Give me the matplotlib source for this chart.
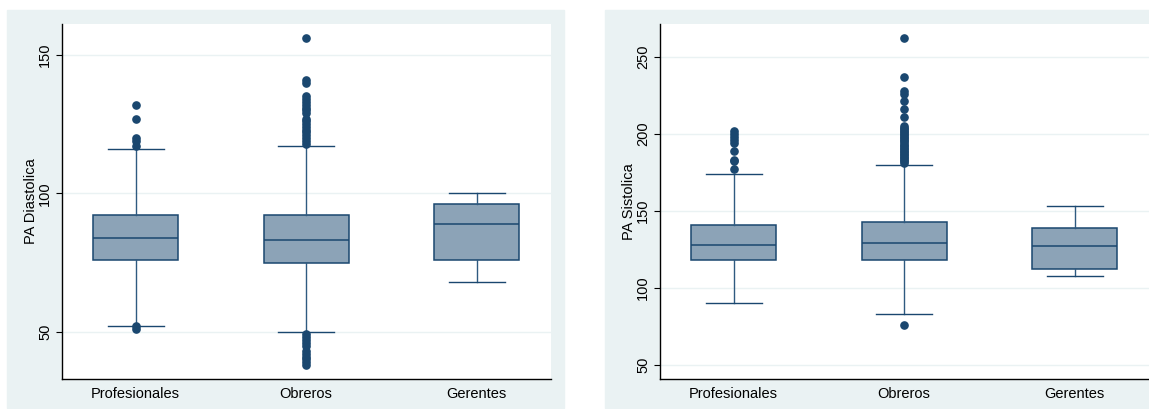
import matplotlib
matplotlib.use("Agg")
import matplotlib.pyplot as plt
from matplotlib.patches import Rectangle

plt.rcParams["font.family"] = ["Liberation Sans", "DejaVu Sans"]

#### Data
groups = ["Profesionales", "Obreros", "Gerentes"]

# PA Diastolica: (whislo, q1, med, q3, whishi)
dia_stats = [(52, 76, 84, 92, 116), (50, 75, 83, 92, 117), (68, 76, 89, 96, 100)]
dia_fliers = [
    [132, 127, 120, 119, 117, 51, 52],
    [156, 141, 140, 135, 134, 133, 132, 131, 130, 129, 127, 126, 125, 124,
     123, 122, 121, 120, 119, 118,
     49, 48, 47, 46, 45, 43, 42, 41, 40, 39, 38],
    [],
]

# PA Sistolica
sis_stats = [(90, 118, 128, 141, 174), (83, 118, 129, 143, 180), (108, 112.5, 127, 139, 153)]
sis_fliers = [
    [202, 200, 198, 196, 194, 189, 183, 182, 177],
    [262, 237, 228, 226, 221, 216, 211, 205, 204, 203, 202, 201, 200, 199,
     198, 197, 196, 195, 194, 193, 192, 191, 190, 189, 188, 187, 186, 185,
     184, 183, 182, 181, 76],
    [],
]

NAVY = "#1a476f"
FILL = "#8ca3b7"
BG = "#eaf2f3"

W, H = 1149, 409
fig = plt.figure(figsize=(W / 100, H / 100), dpi=100)

# panel backgrounds (Stata graph region)
fig.patches.append(Rectangle((7 / W, 1 / H), 557 / W, 398 / H,
                             transform=fig.transFigure, color=BG, zorder=-5))
fig.patches.append(Rectangle((605 / W, 1 / H), 560 / W, 398 / H,
                             transform=fig.transFigure, color=BG, zorder=-5))


def draw_panel(rect, stats, fliers, ylabel, yticks, ylim):
    ax = fig.add_axes(rect, zorder=2)
    ax.set_facecolor("white")
    bxp_stats = []
    for name, (lo, q1, med, q3, hi), fl in zip(groups, stats, fliers):
        bxp_stats.append(dict(label=name, whislo=lo, q1=q1, med=med, q3=q3,
                              whishi=hi, fliers=fl))
    ax.bxp(bxp_stats, positions=[1, 2, 3], widths=0.5, patch_artist=True,
           boxprops=dict(facecolor=FILL, edgecolor=NAVY, linewidth=1.1),
           medianprops=dict(color=NAVY, linewidth=1.1),
           whiskerprops=dict(color="#2f5a80", linewidth=1.0),
           capprops=dict(color=NAVY, linewidth=1.0),
           capwidths=0.33,
           flierprops=dict(marker="o", markerfacecolor=NAVY,
                           markeredgecolor=NAVY, markersize=5.2),
           zorder=3)
    ax.set_xlim(0.568, 3.436)
    ax.set_ylim(*ylim)
    ax.set_yticks(yticks)
    ax.set_yticklabels([str(t) for t in yticks], rotation=90, va="center")
    ax.yaxis.grid(True, color=BG, linewidth=1.0, zorder=0)
    ax.set_axisbelow(True)
    for s in ("top", "right"):
        ax.spines[s].set_visible(False)
    for s in ("left", "bottom"):
        ax.spines[s].set_color("black")
        ax.spines[s].set_linewidth(1.0)
    ax.tick_params(axis="x", length=0, pad=6, labelsize=10.5)
    ax.tick_params(axis="y", length=4, width=0.8, pad=3, labelsize=10.5)
    ax.set_ylabel(ylabel, fontsize=10.5, labelpad=0)
    return ax


draw_panel([62 / W, 30 / H, 489 / W, 355 / H], dia_stats, dia_fliers,
           "PA Diastolica", [50, 100, 150], (32.9, 161.2))
draw_panel([660 / W, 30 / H, 489 / W, 355 / H], sis_stats, sis_fliers,
           "PA Sistolica", [50, 100, 150, 200, 250], (40.9, 271.2))

fig.savefig("out.png", dpi=100, facecolor="white")
